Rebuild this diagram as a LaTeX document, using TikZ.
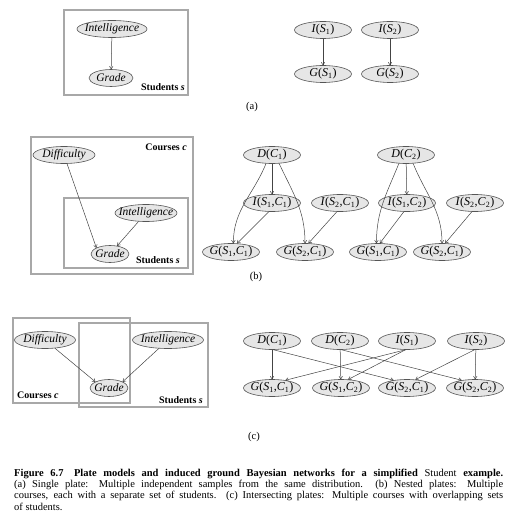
\documentclass[tikz,border=0pt]{standalone}
\usepackage{fontspec}
\setmainfont{Liberation Serif}
\usetikzlibrary{shapes.geometric,arrows.meta}
\definecolor{nfill}{HTML}{E6E6E6}
\definecolor{ndraw}{HTML}{555555}
\definecolor{pgray}{HTML}{A8A8A8}
\definecolor{agray}{HTML}{444444}
\newcommand\lb[1]{\makebox[0pt]{#1}}
\newcommand\gv[5]{\lb{\fontsize{12}{14}\selectfont\textit{#1}(\textit{#2}\textsubscript{#3},\textit{#4}\textsubscript{#5})}}
\newcommand\sv[3]{\lb{\fontsize{12}{14}\selectfont\textit{#1}(\textit{#2}\textsubscript{#3})}}
\begin{document}
\begin{tikzpicture}[x=1pt,y=1pt,
  nd/.style={ellipse,draw=ndraw,fill=nfill,line width=0.6pt,inner sep=0pt,minimum height=17pt,minimum width=#1,font=\fontsize{11.5}{13}\selectfont},
  nd/.default=57pt,
  plate/.style={draw=pgray,line width=1.6pt},
  arr/.style={draw=agray,line width=0.5pt,-{To[length=3.2pt,width=4pt]}},
  plab/.style={font=\fontsize{10}{12}\selectfont\bfseries,inner sep=0pt},
  sublab/.style={font=\fontsize{10.5}{12}\selectfont,inner sep=0pt},
]
\useasboundingbox (0,0) rectangle (513,-521);

% ---------------- (a) ----------------
\draw[plate] (64,-10) rectangle (188,-95);
\node[nd=70pt] (aI) at (112,-29) {\lb{\textit{Intelligence}}};
\node[nd=44pt] (aG) at (111,-78) {\lb{\textit{Grade}}};
\node[plab,anchor=base east] (aS) at (185,-91) {Students \textit{s}};
\draw[arr] (aI) -- (aG);

\node[nd] (aI1) at (323,-30) {\sv{I}{S}{1}};
\node[nd] (aI2) at (390,-30) {\sv{I}{S}{2}};
\node[nd] (aG1) at (323,-74) {\sv{G}{S}{1}};
\node[nd] (aG2) at (390,-74) {\sv{G}{S}{2}};
\draw[arr] (aI1) -- (aG1);
\draw[arr] (aI2) -- (aG2);
\node[sublab] (la) at (252,-107) {(a)};

% ---------------- (b) ----------------
\draw[plate] (31,-137) rectangle (193,-274);
\draw[plate] (64,-198) rectangle (188,-268);
\node[nd=62pt] (bD) at (64,-155) {\lb{\textit{Difficulty}}};
\node[nd=62pt] (bI) at (146,-213) {\lb{\textit{Intelligence}}};
\node[nd=38pt] (bG) at (110,-254) {\lb{\textit{Grade}}};
\node[plab,anchor=base east] (bC) at (187,-151) {Courses \textit{c}};
\node[plab,anchor=base east] (bS) at (180,-263) {Students \textit{s}};
\draw[arr] (bD) -- (bG.north west);
\draw[arr] (bI) -- (bG);

\node[nd] (bD1) at (272,-155) {\lb{\fontsize{12}{14}\selectfont\textit{D}(\textit{C}\textsubscript{1})}};
\node[nd] (bD2) at (406,-155) {\lb{\fontsize{12}{14}\selectfont\textit{D}(\textit{C}\textsubscript{2})}};
\node[nd] (bI11) at (272,-203) {\gv{I}{S}{1}{C}{1}};
\node[nd] (bI21) at (340,-203) {\gv{I}{S}{2}{C}{1}};
\node[nd] (bI12) at (407,-203) {\gv{I}{S}{1}{C}{2}};
\node[nd] (bI22) at (475,-203) {\gv{I}{S}{2}{C}{2}};
\node[nd] (bG11) at (231,-252) {\gv{G}{S}{1}{C}{1}};
\node[nd] (bG21) at (305,-252) {\gv{G}{S}{2}{C}{1}};
\node[nd] (bG12) at (378,-252) {\gv{G}{S}{1}{C}{1}};
\node[nd] (bG22) at (442,-252) {\gv{G}{S}{2}{C}{1}};
\draw[arr] (bD1) -- (bI11);
\draw[arr] (bD1.235) to[out=-112,in=90] (bG11.75);
\draw[arr] (bD1.-50) to[out=-65,in=90] (bG21.north);
\draw[arr] (bI11.250) -- (bG11.55);
\draw[arr] (bI21.250) -- (bG21.68);
\draw[arr] (bD2) -- (bI12);
\draw[arr] (bD2.230) to[out=-112,in=90] (bG12.100);
\draw[arr] (bD2.-50) to[out=-68,in=90] (bG22.north);
\draw[arr] (bI12.250) -- (bG12.78);
\draw[arr] (bI22.250) -- (bG22.70);
\node[sublab] (lb) at (256,-277) {(b)};

% ---------------- (c) ----------------
\draw[plate] (13,-318) rectangle (130,-403);
\draw[plate] (79,-323) rectangle (208,-407);
\node[nd=61pt] (cD) at (45,-340) {\lb{\textit{Difficulty}}};
\node[nd=71pt] (cI) at (168,-340) {\lb{\textit{Intelligence}}};
\node[nd=38pt] (cG) at (109,-388) {\lb{\textit{Grade}}};
\node[plab,anchor=base west] (cC) at (17,-398) {Courses \textit{c}};
\node[plab,anchor=base east] (cS) at (203,-403) {Students \textit{s}};
\draw[arr] (cD) -- (cG.north west);
\draw[arr] (cI) -- (cG.north east);

\node[nd] (cD1) at (272,-341) {\lb{\fontsize{12}{14}\selectfont\textit{D}(\textit{C}\textsubscript{1})}};
\node[nd] (cD2) at (340,-341) {\lb{\fontsize{12}{14}\selectfont\textit{D}(\textit{C}\textsubscript{2})}};
\node[nd] (cI1) at (407,-341) {\sv{I}{S}{1}};
\node[nd] (cI2) at (476,-341) {\sv{I}{S}{2}};
\node[nd] (cG11) at (272,-388) {\gv{G}{S}{1}{C}{1}};
\node[nd] (cG12) at (341,-388) {\gv{G}{S}{1}{C}{2}};
\node[nd] (cG21) at (407,-388) {\gv{G}{S}{2}{C}{1}};
\node[nd] (cG22) at (475,-388) {\gv{G}{S}{2}{C}{2}};
\draw[arr] (cD1) -- (cG11);
\draw[arr] (cD1.-80) -- (cG21.150);
\draw[arr] (cD2) -- (cG12);
\draw[arr] (cD2.-80) -- (cG22.150);
\draw[arr] (cI1.-100) -- (cG11.30);
\draw[arr] (cI1.-100) -- (cG12.50);
\draw[arr] (cI2.-100) -- (cG21.45);
\draw[arr] (cI2) -- (cG22);
\node[sublab] (lc) at (254,-437) {(c)};

% ---------------- caption ----------------
\node[anchor=base west,text width=489pt,inner sep=0pt,align=justify,font=\fontsize{10.5}{11.4}\selectfont] (cap) at (14,-476)
{\textbf{Figure 6.7\quad Plate models and induced ground Bayesian networks for a simplified} Student \textbf{example.}\linebreak
(a) Single plate: Multiple independent samples from the same distribution.\ \ (b) Nested plates: Multiple\linebreak
courses, each with a separate set of students. (c) Intersecting plates: Multiple courses with overlapping sets\linebreak
of students.};
\end{tikzpicture}
\end{document}
